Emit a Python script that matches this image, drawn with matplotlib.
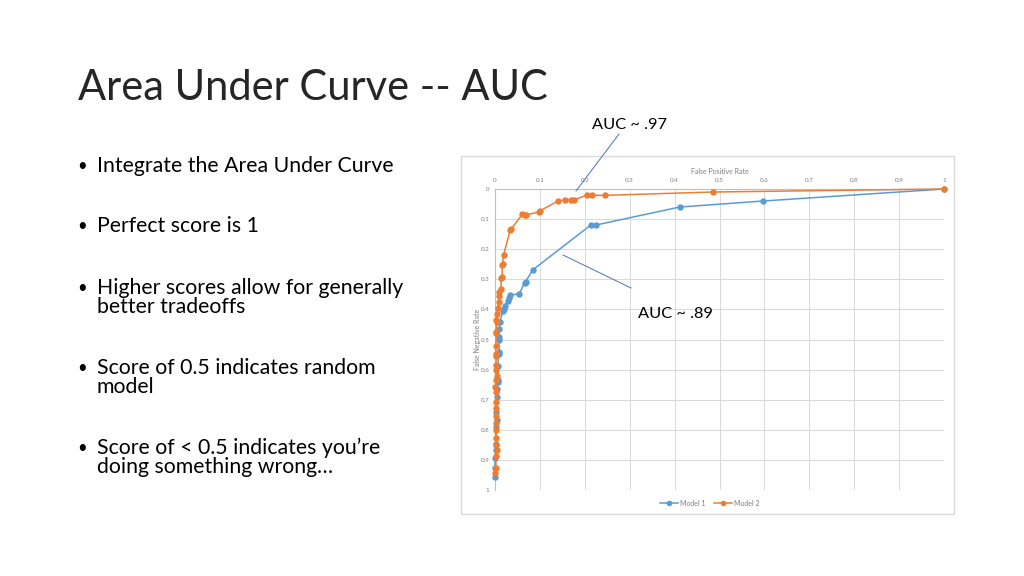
import matplotlib
matplotlib.use("Agg")
import matplotlib.pyplot as plt
from matplotlib.lines import Line2D
from matplotlib.patches import Rectangle

# ROC-style data (x = false positive rate, y = false negative rate)
model1_fpr = [1.0, 0.596, 0.411, 0.224, 0.213, 0.084, 0.068, 0.066, 0.054, 0.033, 0.032,
              0.028, 0.022, 0.019, 0.018, 0.011, 0.009, 0.008, 0.008, 0.0096, 0.009,
              0.006, 0.007, 0.006, 0.005, 0.005, 0.003, 0.004, 0.003, 0.003, 0.002,
              0.0, 0.0, 0.0]
model1_fnr = [0.0, 0.040, 0.060, 0.120, 0.120, 0.269, 0.308, 0.312, 0.348, 0.353, 0.361,
              0.372, 0.389, 0.398, 0.404, 0.442, 0.466, 0.493, 0.500, 0.541, 0.548,
              0.587, 0.634, 0.641, 0.663, 0.690, 0.741, 0.767, 0.791, 0.847, 0.867,
              0.894, 0.926, 0.957]

model2_fpr = [1.0, 0.485, 0.245, 0.216, 0.204, 0.176, 0.169, 0.157, 0.140, 0.101, 0.098,
              0.070, 0.066, 0.061, 0.036, 0.034, 0.019, 0.017, 0.016, 0.016, 0.014,
              0.013, 0.010, 0.010, 0.008, 0.006, 0.004, 0.003, 0.004, 0.002, 0.003,
              0.002, 0.002, 0.003, 0.002, 0.003, 0.004, 0.002, 0.001, 0.003, 0.002,
              0.002, 0.002, 0.003, 0.002, 0.002, 0.003, 0.004, 0.002, 0.002, 0.001]
model2_fnr = [0.0, 0.010, 0.021, 0.021, 0.021, 0.036, 0.036, 0.036, 0.040, 0.072, 0.076,
              0.086, 0.086, 0.084, 0.133, 0.137, 0.219, 0.248, 0.253, 0.294, 0.296,
              0.331, 0.342, 0.357, 0.376, 0.396, 0.414, 0.434, 0.442, 0.477, 0.474,
              0.522, 0.548, 0.555, 0.584, 0.600, 0.622, 0.636, 0.658, 0.675, 0.708,
              0.727, 0.753, 0.778, 0.802, 0.827, 0.852, 0.867, 0.886, 0.927, 0.942]

series_labels = ["Model 1", "Model 2"]
ticks = [0, 0.1, 0.2, 0.3, 0.4, 0.5, 0.6, 0.7, 0.8, 0.9, 1]
tick_labels = ["0", "0.1", "0.2", "0.3", "0.4", "0.5", "0.6", "0.7", "0.8", "0.9", "1"]

title = "Area Under Curve -- AUC"
bullets = [
    ["Integrate the Area Under Curve"],
    ["Perfect score is 1"],
    ["Higher scores allow for generally", "better tradeoffs"],
    ["Score of 0.5 indicates random", "model"],
    ["Score of < 0.5 indicates you\u2019re", "doing something wrong\u2026"],
]

BLUE = "#5B9BD5"
ORANGE = "#ED7D31"
GRID = "#D9D9D9"
TICKC = "#7F7F7F"
FONT = ["Lato", "DejaVu Sans"]

plt.rcParams["font.family"] = FONT

W, H = 1024, 576
fig = plt.figure(figsize=(W / 100, H / 100), dpi=100)
fig.patch.set_facecolor("white")


def fx(px):
    return px / W


def fy(py):
    return 1 - py / H


# slide title and bullet text
fig.text(fx(78), fy(100), title, fontsize=30, color="#262626", va="baseline", ha="left")

bullet_base = [172, 232, 294, 374, 454]
for y, lines in zip(bullet_base, bullets):
    fig.text(fx(77), fy(y - 6), "\u2022", fontsize=12, va="center", ha="left")
    for i, line in enumerate(lines):
        fig.text(fx(97), fy(y + 19 * i), line, fontsize=15.3, va="baseline", ha="left")

# chart frame
fig.patches.append(Rectangle((fx(461), fy(514)), fx(954) - fx(461), fy(156) - fy(514),
                             transform=fig.transFigure, fill=False,
                             edgecolor=GRID, linewidth=1.0))

ax = fig.add_axes([fx(495), fy(490), fx(944) - fx(495), fy(189) - fy(490)])
ax.plot(model1_fpr, model1_fnr, color=BLUE, lw=1.1, marker="o", ms=3.6,
        label=series_labels[0], zorder=3, clip_on=False)
ax.plot(model2_fpr, model2_fnr, color=ORANGE, lw=1.1, marker="o", ms=3.6,
        label=series_labels[1], zorder=4, clip_on=False)

ax.set_xlim(0, 1)
ax.set_ylim(1, 0)
ax.set_xticks(ticks)
ax.set_xticklabels(tick_labels)
ax.set_yticks(ticks)
ax.set_yticklabels(tick_labels)
ax.xaxis.tick_top()
ax.xaxis.set_label_position("top")
ax.tick_params(length=0, labelsize=4.5, labelcolor=TICKC, pad=4)
ax.grid(True, color=GRID, linewidth=0.7)
for s in ["right", "bottom"]:
    ax.spines[s].set_visible(False)
for s in ["top", "left"]:
    ax.spines[s].set_color("#BFBFBF")
    ax.spines[s].set_linewidth(0.8)
ax.set_xlabel("False Positive Rate", fontsize=5, color=TICKC, labelpad=3)
ax.set_ylabel("False Negative Rate", fontsize=5, color=TICKC, labelpad=0)

handles = [Line2D([], [], color=BLUE, lw=1.1, marker="o", ms=3),
           Line2D([], [], color=ORANGE, lw=1.1, marker="o", ms=3)]
fig.legend(handles, series_labels, loc="center", bbox_to_anchor=(fx(710), fy(503)),
           ncol=2, frameon=False, fontsize=5, labelcolor=TICKC, handlelength=2.6,
           columnspacing=1.2, handletextpad=0.3)

# AUC callouts
fig.text(fx(592), fy(125), "AUC ~ .97", fontsize=11.8, va="center", ha="left")
fig.add_artist(Line2D([fx(619), fx(576)], [fy(134), fy(191)], color="#4F6FBF", lw=0.7))
fig.text(fx(638), fy(314), "AUC ~ .89", fontsize=11.8, va="center", ha="left")
fig.add_artist(Line2D([fx(563), fx(631)], [fy(255), fy(288)], color="#4F6FBF", lw=0.7))

fig.savefig("out.png", dpi=100)
